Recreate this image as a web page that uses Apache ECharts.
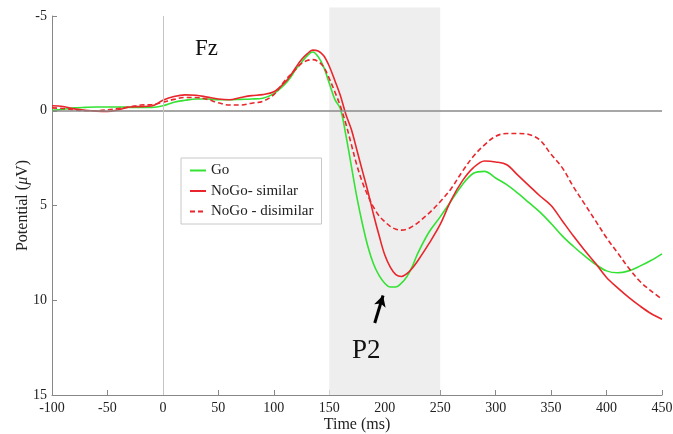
<!DOCTYPE html>
<html><head><meta charset="utf-8">
<script src="https://cdn.jsdelivr.net/npm/echarts@6/dist/echarts.min.js"></script>
<style>html,body{margin:0;padding:0;background:#fff}#c{width:673px;height:434px}</style>
</head><body><div id="c"></div>
<script>
var times = [-100,-90,-80,-70,-60,-50,-40,-30,-20,-10,0,10,20,30,40,50,60,70,80,90,100,110,
  115,120,125,130,135,140,145,150,155,160,165,170,175,180,185,190,195,200,205,210,215,220,225,230,
  240,250,260,270,280,290,300,310,320,330,340,350,360,370,380,390,400,410,420,430,440,450];
var go = [-0.02,-0.08,-0.15,-0.18,-0.2,-0.2,-0.2,-0.18,-0.17,-0.17,-0.26,-0.45,-0.55,-0.62,-0.62,-0.58,-0.58,-0.6,-0.62,-0.66,-0.9,-1.4,
  -1.75,-2.2,-2.55,-2.9,-3.1,-2.85,-2.3,-1.45,-0.6,-0.1,1.3,2.95,4.6,6.0,7.2,8.1,8.7,9.1,9.3,9.3,9.1,8.75,8.2,7.5,
  6.4,5.6,4.75,3.9,3.3,3.2,3.55,3.9,4.35,4.85,5.35,5.95,6.6,7.15,7.65,8.1,8.45,8.55,8.45,8.2,7.9,7.55];
var nogoSimilar = [-0.26,-0.22,-0.1,-0.03,0.02,0.04,-0.05,-0.2,-0.22,-0.25,-0.55,-0.75,-0.84,-0.82,-0.72,-0.62,-0.58,-0.7,-0.8,-0.85,-1.0,-1.5,
  -1.85,-2.3,-2.7,-3.0,-3.2,-3.15,-2.9,-2.35,-1.6,-0.8,0.2,1.0,2.1,3.2,4.3,5.5,6.6,7.6,8.25,8.65,8.75,8.6,8.3,7.9,
  7.0,6.0,4.7,3.7,3.0,2.65,2.7,2.85,3.4,3.95,4.5,5.0,5.8,6.6,7.35,8.05,8.8,9.35,9.85,10.3,10.7,11.0];
var nogoDissimilar = [-0.15,-0.12,-0.05,0.0,0.0,-0.05,-0.12,-0.2,-0.3,-0.32,-0.45,-0.6,-0.7,-0.7,-0.6,-0.42,-0.3,-0.3,-0.4,-0.5,-0.85,-1.6,
  -1.9,-2.2,-2.5,-2.65,-2.7,-2.6,-2.3,-1.7,-1.0,-0.25,0.7,1.8,2.9,3.8,4.5,5.1,5.55,5.85,6.1,6.25,6.3,6.25,6.1,5.9,
  5.4,4.8,4.1,3.2,2.4,1.8,1.35,1.2,1.2,1.25,1.55,2.3,3.0,4.0,4.9,5.8,6.7,7.5,8.3,9.0,9.5,9.95];
var seriesNames = ['Go','NoGo- similar','NoGo - disimilar'];
var xTicks = [-100,-50,0,50,100,150,200,250,300,350,400,450];
var yTicks = [-5,0,5,10,15];
var window_ms = [150,250];
var shadeTop = -5.45;
var arrowFrom = [191, 11.2];
var arrowTo = [198.5, 9.75];

function pairs(v){ return times.map(function(t,i){ return [t, v[i]]; }); }
var FONT = '"Liberation Serif","Times New Roman",serif';
var GREEN = '#33e233', RED = '#e8262b';
var chart = echarts.init(document.getElementById('c'), null, {renderer:'canvas'});
chart.setOption({
  animation:false,
  backgroundColor:'#fff',
  grid:{left:52,right:11,top:16,bottom:39,containLabel:false,outerBoundsMode:'none'},
  xAxis:{type:'value',min:xTicks[0],max:xTicks[xTicks.length-1],interval:50,
    name:'Time (ms)',nameLocation:'middle',nameGap:22,nameMoveOverlap:false,
    nameTextStyle:{fontFamily:FONT,fontSize:16,color:'#222'},
    axisLine:{show:true,onZero:false,lineStyle:{color:'#888',width:1}},
    axisTick:{show:true,inside:true,length:5,lineStyle:{color:'#888'}},
    axisLabel:{fontFamily:FONT,fontSize:14,color:'#222',margin:6},
    splitLine:{show:false}},
  yAxis:{type:'value',inverse:true,min:yTicks[0],max:yTicks[yTicks.length-1],interval:5,
    name:'Potential ({i|μ}V)',nameLocation:'middle',nameGap:21,nameRotate:90,nameMoveOverlap:false,
    nameTextStyle:{fontFamily:FONT,fontSize:16,color:'#222',
      rich:{i:{fontFamily:FONT,fontSize:16,fontStyle:'italic',color:'#222'}}},
    axisLine:{show:true,onZero:false,lineStyle:{color:'#888',width:1}},
    axisTick:{show:true,inside:true,length:5,lineStyle:{color:'#888'}},
    axisLabel:{fontFamily:FONT,fontSize:14,color:'#222',margin:5},
    splitLine:{show:false}},
  legend:{left:181,top:158,orient:'vertical',data:seriesNames,z:10,
    backgroundColor:'#fff',borderColor:'#c8c8c8',borderWidth:1,padding:[5,8,5,8],
    itemGap:5.5,itemWidth:16,itemHeight:14,
    itemStyle:{opacity:0},
    textStyle:{fontFamily:FONT,fontSize:15,color:'#222'}},
  series:[
    {type:'line',name:'_bg',data:[],silent:true,z:2,
     markLine:{silent:true,symbol:'none',label:{show:false},
       data:[
         {yAxis:0,lineStyle:{color:'#8a8a8a',width:1.5,type:'solid'}},
         {xAxis:0,lineStyle:{color:'#c4c4c4',width:1,type:'solid'}}
       ]}},
    {type:'line',name:seriesNames[0],data:pairs(go),smooth:0.35,symbol:'none',z:3,
     color:GREEN,lineStyle:{color:GREEN,width:1.6}},
    {type:'line',name:seriesNames[1],data:pairs(nogoSimilar),smooth:0.35,symbol:'none',z:4,
     color:RED,lineStyle:{color:RED,width:1.6}},
    {type:'line',name:seriesNames[2],data:pairs(nogoDissimilar),smooth:0.35,symbol:'none',z:4,
     color:RED,lineStyle:{color:RED,width:1.6,type:[5,3]},
     markLine:{silent:true,symbol:['none','arrow'],symbolSize:[9,11],label:{show:false},
       lineStyle:{color:'#000',width:3,type:'solid'},
       data:[[{coord:arrowFrom},{coord:arrowTo}]]}}
  ]
});
var p1 = chart.convertToPixel({gridIndex:0}, [window_ms[0], shadeTop]);
var p2 = chart.convertToPixel({gridIndex:0}, [window_ms[1], yTicks[yTicks.length-1]]);
chart.setOption({
  graphic:[
    {type:'rect',z:1,zlevel:0,silent:true,
     shape:{x:p1[0],y:p1[1],width:p2[0]-p1[0],height:p2[1]-p1[1]},
     style:{fill:'#efeeef'}},
    {type:'text',z:20,left:195,top:37,style:{text:'Fz',font:'23px '+FONT,fill:'#111'}},
    {type:'text',z:20,left:352,top:337,style:{text:'P2',font:'27px '+FONT,fill:'#111'}}
  ]
});
</script></body></html>
